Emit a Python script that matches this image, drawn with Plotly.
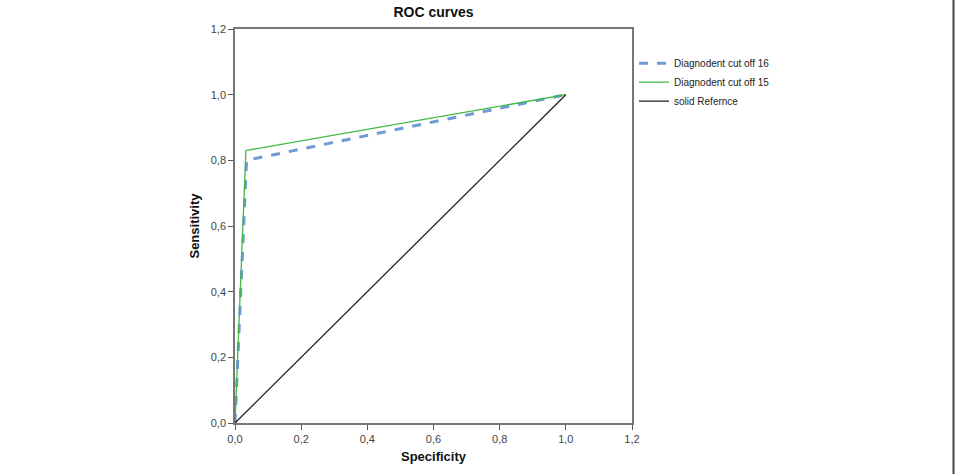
import plotly.graph_objects as go

# Data
fpr_16 = [0.0, 0.035, 1.0]
tpr_16 = [0.0, 0.80, 1.0]
fpr_15 = [0.0, 0.033, 1.0]
tpr_15 = [0.0, 0.83, 1.0]
ref_x = [0.0, 1.0]
ref_y = [0.0, 1.0]
series_names = ["Diagnodent cut off 16", "Diagnodent cut off 15", "solid Refernce"]
tick_vals = [0.0, 0.2, 0.4, 0.6, 0.8, 1.0, 1.2]

fig = go.Figure()
fig.add_trace(go.Scatter(x=fpr_16, y=tpr_16, mode="lines", name=series_names[0],
                         line=dict(color="#6f9ad6", width=3, dash="dash")))
fig.add_trace(go.Scatter(x=fpr_15, y=tpr_15, mode="lines", name=series_names[1],
                         line=dict(color="#3fb845", width=1.3)))
fig.add_trace(go.Scatter(x=ref_x, y=ref_y, mode="lines", name=series_names[2],
                         line=dict(color="#222222", width=1.3)))

axis_common = dict(
    range=[0, 1.2], tickvals=tick_vals, tickformat=".1f",
    showgrid=False, zeroline=False, showline=True, linecolor="#777", linewidth=1.5,
    mirror=True, ticks="outside", ticklen=5, tickcolor="#555", tickwidth=1,
    tickfont=dict(family="Liberation Sans, Arial", size=11, color="#444"),
)

fig.update_layout(
    width=957, height=474,
    margin=dict(l=235, r=325, t=29, b=49),
    paper_bgcolor="white", plot_bgcolor="white",
    separators=",.",
    title=dict(text="<b>ROC curves</b>", x=(433.5) / 957, xanchor="center",
               y=1 - 12 / 474, yanchor="middle",
               font=dict(family="Liberation Sans, Arial", size=14, color="#111")),
    xaxis=dict(**axis_common,
               title=dict(text="<b>Specificity</b>", standoff=8,
                          font=dict(family="Liberation Sans, Arial", size=13, color="#111"))),
    yaxis=dict(**axis_common,
               title=dict(text="<b>Sensitivity</b>", standoff=8,
                          font=dict(family="Liberation Sans, Arial", size=13, color="#111"))),
    legend=dict(x=1.005, y=0.95, xanchor="left", yanchor="top",
                font=dict(family="Liberation Sans, Arial", size=10, color="#222"),
                tracegroupgap=0, itemwidth=30, bgcolor="rgba(0,0,0,0)"),
    showlegend=True,
)

fig.add_shape(type="line", xref="paper", yref="paper",
              x0=(953.5 - 235) / 397, x1=(953.5 - 235) / 397,
              y0=-0.13, y1=1.08, line=dict(color="#444", width=2))

fig.write_html("out.html")
